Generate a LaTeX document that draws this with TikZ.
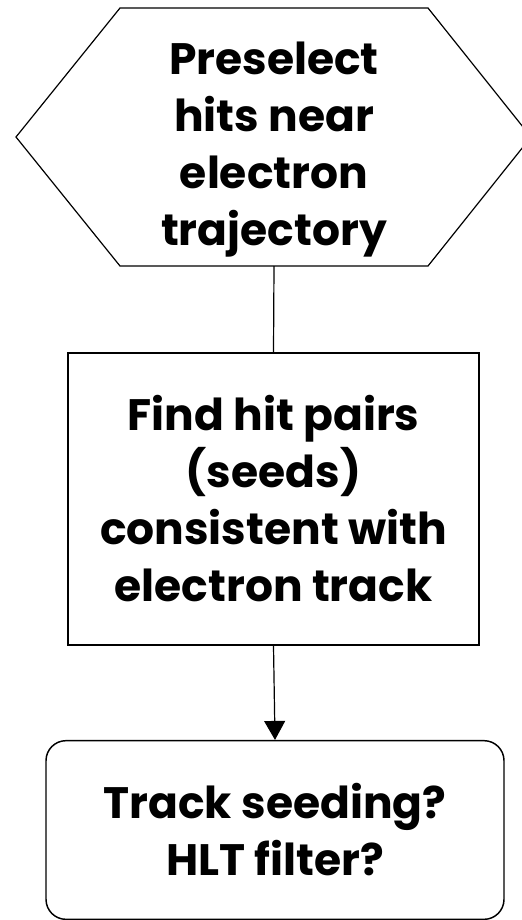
\documentclass[tikz,border=0pt]{standalone}
\usepackage{fontspec}
\setmainfont{Poppins}
\usetikzlibrary{positioning,arrows.meta}

\tikzset{
    boxtext/.style={align=center, font=\fontsize{33}{42.75}\selectfont\bfseries},
    stepbox/.style={boxtext, draw, line width=1.3pt, minimum width=308.25pt, minimum height=219pt},
    endbox/.style={boxtext, draw, line width=1.1pt, rounded corners=15pt, minimum width=343.5pt, minimum height=134pt},
}

\begin{document}
\begin{tikzpicture}[x=0.75pt, y=-0.75pt]
    \useasboundingbox (0,0) rectangle (521,920);

    % hexagon
    \draw[line width=0.9pt] (120,8) -- (428,8) -- (531,137) -- (428,266) -- (120,266) -- (16,137) -- cycle;
    \node[boxtext] (pre) at (274,150) {Preselect\\hits near\\electron\\trajectory};
    \coordinate (preS) at (274,266);

    \node[stepbox] (find) at (273.5,499) {Find hit pairs\\(seeds)\\consistent with\\electron track};
    \node[endbox] (hlt) at (275,830) {Track seeding?\\HLT filter?};

    \draw[line width=0.9pt] (preS) -- (find.north);
    \draw[line width=0.9pt, -{Triangle[length=14.25pt, width=15.75pt]}] (find.south) -- (hlt.north);

\end{tikzpicture}
\end{document}
